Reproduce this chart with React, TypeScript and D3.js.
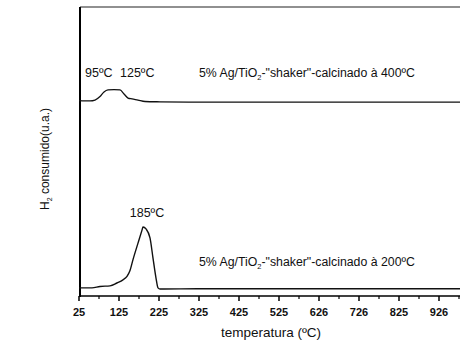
import React from 'react';
import * as d3 from 'd3';

// Temperature axis ticks (major every 100 ºC, minor halfway between)
const majorTicks = [25, 125, 225, 325, 425, 525, 625, 725, 825, 925];
const majorTickLabels = ['25', '125', '225', '325', '425', '525', '626', '726', '825', '926'];
const minorTicks = [75, 175, 275, 375, 475, 575, 675, 775, 875, 975];

// TPR profile, sample calcined at 400 ºC (temperature ºC, H2 signal u.a.)
const temp400 = [25, 52.5, 65, 77.5, 87.5, 97.5, 112.5, 127.5, 137.5, 147.5, 157.5, 172.5, 190, 227.5, 330, 450, 600, 750, 900, 980];
const signal400 = [67.6, 67.5, 67.8, 69.0, 70.6, 71.3, 71.4, 71.3, 69.9, 68.5, 68.2, 67.8, 67.3, 67.2, 67.1, 67.1, 67.1, 67.1, 67.1, 67.1];

// TPR profile, sample calcined at 200 ºC
const temp200 = [25, 57.5, 77.5, 102.5, 120, 135, 145, 152.5, 160, 172.5, 182.5, 185, 192.5, 202.5, 210, 217.5, 222.5, 227.5, 330, 500, 700, 900, 980];
const signal200 = [2.8, 2.8, 3.3, 3.5, 4.5, 5.6, 6.8, 8.8, 12.6, 18.3, 22.8, 23.9, 23.2, 20.1, 13.1, 6.2, 2.8, 2.4, 2.5, 2.5, 2.5, 2.5, 2.5];

// Peak annotations
const peakTemps400 = [95, 125];
const peakLabels400 = ['95ºC', '125ºC'];
const peakTemps200 = [185];
const peakLabels200 = ['185ºC'];

const W = 460;
const H = 342;
const left = 80;
const right = 460;
const top = 7;
const bottom = 296;

const FONT = '"Liberation Sans", Arial, Helvetica, sans-serif';

export default function App() {
  const x = d3.scaleLinear().domain([25, 977.5]).range([left - 1, right]);
  const y = d3.scaleLinear().domain([0, 100]).range([bottom, top]);

  const line = d3
    .line<[number, number]>()
    .x((d) => x(d[0]))
    .y((d) => y(d[1]))
    .curve(d3.curveMonotoneX);

  const pts400: [number, number][] = temp400.map((t, i) => [t, signal400[i]]);
  const pts200: [number, number][] = temp200.map((t, i) => [t, signal200[i]]);

  // horizontal offsets of the low-temperature peak labels (start-anchored)
  const peakDx400 = [-22, 1];

  return (
    <svg
      width={W}
      height={H}
      style={{ position: 'absolute', left: 0, top: 0, background: '#fff' }}
      fontFamily={FONT}
    >
      <rect width={W} height={H} fill="#fff" />

      {/* frame: top edge, left axis, bottom axis */}
      <line x1={left} x2={right} y1={top} y2={top} stroke="#222" strokeWidth={1.2} />
      <line x1={left} x2={left} y1={top} y2={bottom + 1} stroke="#000" strokeWidth={2} />
      <line x1={left} x2={right} y1={bottom} y2={bottom} stroke="#000" strokeWidth={1.5} />

      {majorTicks.map((t, i) => (
        <g key={`M${t}`}>
          <line x1={x(t)} x2={x(t)} y1={bottom} y2={bottom + 5} stroke="#000" strokeWidth={1.5} />
          <text
            x={x(t)}
            y={316}
            textAnchor="middle"
            fontSize={11}
            fontWeight="bold"
            fill="#111"
          >
            {majorTickLabels[i]}
          </text>
        </g>
      ))}
      {minorTicks.map((t) => (
        <line key={`m${t}`} x1={x(t)} x2={x(t)} y1={bottom} y2={bottom + 3} stroke="#000" strokeWidth={1.2} />
      ))}

      {/* TPR curves */}
      <path d={line(pts400) || ''} fill="none" stroke="#111" strokeWidth={1.3} />
      <path d={line(pts200) || ''} fill="none" stroke="#111" strokeWidth={1.4} />

      {/* peak labels */}
      {peakTemps400.map((t, i) => (
        <text key={peakLabels400[i]} x={x(t) + peakDx400[i]} y={77} fontSize={12.5} fill="#111">
          {peakLabels400[i]}
        </text>
      ))}
      {peakTemps200.map((t, i) => (
        <text key={peakLabels200[i]} x={x(t) + 4} y={217} textAnchor="middle" fontSize={12.5} fill="#111">
          {peakLabels200[i]}
        </text>
      ))}

      {/* sample labels */}
      <text x={x(325)} y={77} fontSize={12.3} fill="#111">
        5% Ag/TiO
        <tspan fontSize={7.5} dy={3}>2</tspan>
        <tspan dy={-3}>-"shaker"-calcinado à 400ºC</tspan>
      </text>
      <text x={x(325)} y={266} fontSize={12.3} fill="#111">
        5% Ag/TiO
        <tspan fontSize={7.5} dy={3}>2</tspan>
        <tspan dy={-3}>-"shaker"-calcinado à 200ºC</tspan>
      </text>

      {/* axis titles */}
      <text x={271} y={337} textAnchor="middle" fontSize={13.5} fill="#111">
        temperatura (ºC)
      </text>
      <text transform="translate(49,159) rotate(-90)" textAnchor="middle" fontSize={12} fill="#111">
        H
        <tspan fontSize={7} dy={3}>2</tspan>
        <tspan dy={-3}> consumido(u.a.)</tspan>
      </text>
    </svg>
  );
}
